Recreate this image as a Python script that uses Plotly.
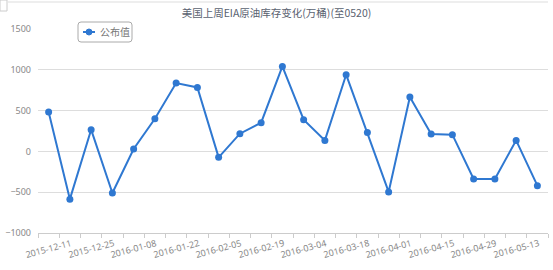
import plotly.graph_objects as go

dates = ["2015-12-11", "2015-12-18", "2015-12-25", "2016-01-01", "2016-01-08", "2016-01-15",
         "2016-01-22", "2016-01-29", "2016-02-05", "2016-02-12", "2016-02-19", "2016-02-26",
         "2016-03-04", "2016-03-11", "2016-03-18", "2016-03-25", "2016-04-01", "2016-04-08",
         "2016-04-15", "2016-04-22", "2016-04-29", "2016-05-06", "2016-05-13", "2016-05-20"]
values = [483, -585, 266, -510, 29, 400, 838, 784, -73, 217, 352, 1041,
          388, 135, 940, 233, -497, 666, 213, 205, -338, -338, 135, -420]
label_dates = dates[::2]
y_ticks = [-1000, -500, 0, 500, 1000, 1500]
series_name = "公布值"
title_text = "美国上周EIA原油库存变化(万桶)(至0520)"

W, H = 553, 270
ML, MR, MT, MB = 38, 5, 29, 37
PW, PH = W - ML - MR, H - MT - MB
COLOR = "#2f78d1"


def px(x):
    return (x - ML) / PW


def py(y):
    return 1 - (y - MT) / PH


fig = go.Figure()
fig.add_trace(go.Scatter(
    x=dates, y=values, mode="lines+markers", name=series_name,
    line=dict(color=COLOR, width=2),
    marker=dict(color=COLOR, size=7),
    showlegend=False,
))

for d in label_dates:
    fig.add_annotation(
        x=d, y=0, xref="x", yref="paper", text=d, showarrow=False,
        textangle=-15, xanchor="center", yanchor="top", yshift=-1,
        font=dict(family="Noto Sans, DejaVu Sans", size=9, color="#888888"),
    )

# top border line and corner box
fig.add_shape(type="line", xref="paper", yref="paper",
              x0=px(8), x1=1.0, y0=py(2), y1=py(2),
              line=dict(color="#dddddd", width=1))
fig.add_shape(type="rect", xref="paper", yref="paper",
              x0=px(0), x1=px(7), y0=py(0), y1=py(11),
              line=dict(color="#cccccc", width=1), fillcolor="white")

# custom legend
lx0, lx1, ly0, ly1, r = 78, 132, 22, 42, 3
path = (f"M {px(lx0 + r)},{py(ly0)} L {px(lx1 - r)},{py(ly0)} Q {px(lx1)},{py(ly0)} {px(lx1)},{py(ly0 + r)} "
        f"L {px(lx1)},{py(ly1 - r)} Q {px(lx1)},{py(ly1)} {px(lx1 - r)},{py(ly1)} "
        f"L {px(lx0 + r)},{py(ly1)} Q {px(lx0)},{py(ly1)} {px(lx0)},{py(ly1 - r)} "
        f"L {px(lx0)},{py(ly0 + r)} Q {px(lx0)},{py(ly0)} {px(lx0 + r)},{py(ly0)} Z")
fig.add_shape(type="path", xref="paper", yref="paper", path=path,
              line=dict(color="#aaaaaa", width=1), fillcolor="white", layer="above")
fig.add_shape(type="line", xref="paper", yref="paper",
              x0=px(83), x1=px(95), y0=py(32), y1=py(32),
              line=dict(color=COLOR, width=2), layer="above")
fig.add_shape(type="circle", xref="paper", yref="paper",
              x0=px(86), x1=px(92), y0=py(29), y1=py(35),
              line=dict(color=COLOR, width=1), fillcolor=COLOR, layer="above")
fig.add_annotation(x=px(98), y=py(32), xref="paper", yref="paper", text=series_name,
                   showarrow=False, xanchor="left", yanchor="middle",
                   font=dict(family="Noto Sans CJK SC", size=10, color="#777777"))

fig.update_layout(
    width=W, height=H,
    margin=dict(l=ML, r=MR, t=MT, b=MB),
    paper_bgcolor="white", plot_bgcolor="white",
    title=dict(text=title_text, x=0.5, xref="container", xanchor="center", y=1 - 13 / H, yanchor="middle",
               font=dict(family="Noto Sans CJK SC", size=10.5, color="#5a6270")),
    showlegend=False,
    xaxis=dict(type="category", showgrid=False, showticklabels=False,
               ticks="outside", tickson="boundaries", ticklen=4, tickcolor="#cccccc",
               showline=True, linecolor="#cccccc", linewidth=1,
               range=[-0.5, len(dates) - 0.5], fixedrange=True),
    yaxis=dict(range=[-1000, 1500], tickvals=y_ticks, showgrid=True, gridcolor="#dddddd",
               zeroline=False, showline=False, ticks="",
               tickfont=dict(family="Noto Sans, DejaVu Sans", size=9, color="#888888"),
               ticklabelstandoff=6),
)

fig.write_html("out.html")
